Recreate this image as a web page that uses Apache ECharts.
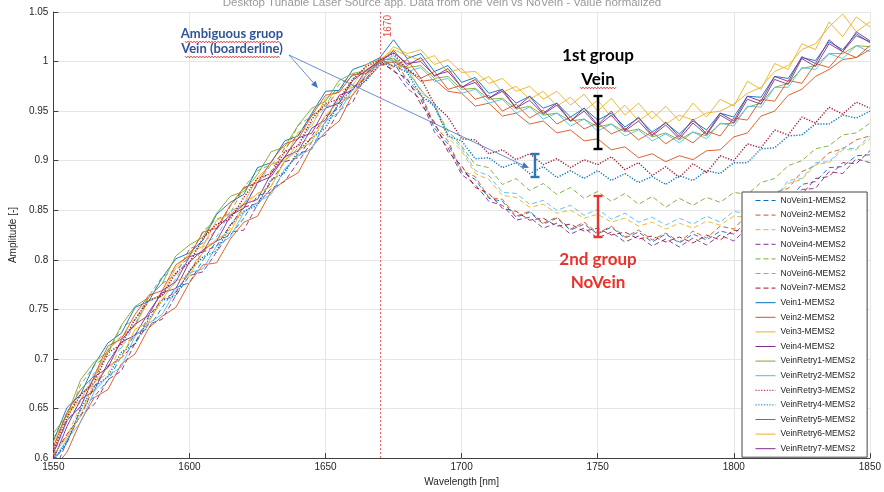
<!DOCTYPE html>
<html>
<head>
<meta charset="utf-8">
<script src="https://cdn.jsdelivr.net/npm/echarts@6/dist/echarts.min.js"></script>
<style>
  html, body { margin: 0; padding: 0; background: #fff; }
  #chart { width: 884px; height: 492px; }
</style>
</head>
<body>
<div id="chart"></div>
<script>
// Wavelength grid [nm]
const wavelength = [
  1550,1555,1560,1565,1570,1575,1580,1585,1590,1595,1600,1605,1610,1615,1620,1625,1630,1635,1640,1645,
  1650,1655,1660,1665,1670,1675,1680,1685,1690,1695,1700,1705,1710,1715,1720,1725,1730,1735,1740,1745,
  1750,1755,1760,1765,1770,1775,1780,1785,1790,1795,1800,1805,1810,1815,1820,1825,1830,1835,1840,1845,1850
];

// Normalised amplitudes, one list per measurement
const noVein1 = [0.597,0.615,0.649,0.662,0.678,0.703,0.725,0.731,0.752,0.772,0.777,0.800,0.819,0.825,0.842,0.865,0.868,0.890,0.907,0.912,0.939,0.957,0.966,0.988,1.000,
  0.999,0.978,0.966,0.933,0.917,0.889,0.881,0.862,0.859,0.843,0.848,0.836,0.842,0.830,0.836,0.826,0.833,0.822,0.828,0.818,0.826,0.817,0.826,0.820,0.829,0.826,0.839,0.838,0.857,0.860,0.876,0.879,0.893,0.894,0.905,0.906];
const noVein2 = [0.610,0.646,0.663,0.679,0.709,0.723,0.734,0.762,0.776,0.785,0.811,0.817,0.830,0.854,0.872,0.878,0.889,0.913,0.926,0.946,0.954,0.972,0.986,0.989,0.999,
  1.004,0.981,0.968,0.936,0.920,0.890,0.884,0.863,0.861,0.844,0.849,0.837,0.843,0.831,0.838,0.827,0.834,0.823,0.830,0.820,0.827,0.818,0.829,0.822,0.834,0.831,0.846,0.848,0.868,0.872,0.889,0.895,0.908,0.912,0.921,0.925];
const noVein3 = [0.608,0.622,0.653,0.677,0.685,0.714,0.723,0.736,0.764,0.777,0.787,0.813,0.819,0.831,0.857,0.867,0.874,0.900,0.917,0.923,0.939,0.965,0.975,0.983,1.002,
  0.994,0.995,0.970,0.955,0.923,0.910,0.887,0.881,0.865,0.863,0.853,0.856,0.847,0.850,0.842,0.846,0.838,0.842,0.834,0.838,0.831,0.837,0.832,0.839,0.835,0.844,0.843,0.857,0.861,0.877,0.881,0.896,0.898,0.911,0.911,0.922];
const noVein4 = [0.584,0.617,0.644,0.654,0.679,0.688,0.716,0.735,0.740,0.764,0.784,0.788,0.808,0.828,0.830,0.856,0.872,0.879,0.899,0.919,0.926,0.951,0.959,0.988,0.998,
  0.992,0.973,0.962,0.929,0.913,0.886,0.876,0.859,0.855,0.840,0.843,0.832,0.837,0.826,0.832,0.822,0.828,0.818,0.824,0.814,0.821,0.813,0.822,0.815,0.825,0.819,0.832,0.830,0.851,0.853,0.871,0.872,0.889,0.887,0.902,0.898];
const noVein5 = [0.621,0.638,0.674,0.693,0.705,0.733,0.739,0.763,0.783,0.790,0.803,0.829,0.841,0.847,0.873,0.890,0.896,0.909,0.936,0.945,0.956,0.977,0.986,0.991,1.003,
  1.001,0.990,0.972,0.955,0.930,0.915,0.896,0.893,0.876,0.882,0.870,0.877,0.866,0.873,0.862,0.869,0.859,0.867,0.856,0.864,0.853,0.862,0.855,0.863,0.858,0.868,0.866,0.878,0.882,0.895,0.900,0.912,0.915,0.926,0.928,0.938];
const noVein6 = [0.603,0.637,0.657,0.686,0.703,0.711,0.736,0.758,0.763,0.781,0.805,0.817,0.823,0.849,0.856,0.876,0.896,0.900,0.913,0.939,0.954,0.960,0.983,0.990,0.997,
  1.002,0.992,0.971,0.958,0.926,0.913,0.890,0.885,0.868,0.867,0.856,0.860,0.850,0.855,0.845,0.851,0.841,0.847,0.838,0.843,0.835,0.842,0.836,0.844,0.838,0.849,0.846,0.862,0.862,0.880,0.882,0.898,0.899,0.913,0.912,0.925];
const noVein7 = [0.602,0.624,0.642,0.672,0.693,0.701,0.716,0.743,0.760,0.767,0.788,0.808,0.814,0.835,0.853,0.857,0.879,0.899,0.903,0.925,0.945,0.953,0.974,0.983,1.001,
  0.990,0.983,0.957,0.939,0.909,0.895,0.873,0.867,0.852,0.849,0.840,0.842,0.834,0.836,0.829,0.832,0.825,0.828,0.821,0.824,0.818,0.823,0.817,0.825,0.820,0.830,0.828,0.843,0.846,0.863,0.866,0.882,0.884,0.898,0.897,0.910];
const vein1 = [0.617,0.651,0.664,0.694,0.716,0.726,0.752,0.758,0.782,0.801,0.807,0.820,0.846,0.858,0.866,0.893,0.898,0.920,0.925,0.948,0.970,0.971,0.992,0.997,1.004,
  1.022,1.003,1.008,0.990,0.996,0.979,0.984,0.968,0.972,0.958,0.965,0.953,0.958,0.944,0.953,0.941,0.948,0.934,0.943,0.929,0.938,0.927,0.940,0.931,0.948,0.944,0.965,0.964,0.985,0.983,1.004,1.001,1.020,1.012,1.028,1.019];
const vein2 = [0.589,0.606,0.637,0.661,0.669,0.695,0.705,0.731,0.743,0.752,0.777,0.795,0.797,0.821,0.838,0.844,0.869,0.880,0.888,0.914,0.929,0.940,0.967,0.982,0.996,
  1.000,0.993,0.980,0.982,0.970,0.968,0.955,0.958,0.945,0.948,0.937,0.940,0.928,0.931,0.920,0.922,0.911,0.914,0.903,0.907,0.899,0.905,0.901,0.910,0.911,0.924,0.928,0.945,0.950,0.966,0.972,0.985,0.992,1.002,1.004,1.012];
const vein3 = [0.616,0.644,0.659,0.681,0.709,0.722,0.733,0.759,0.765,0.792,0.806,0.814,0.840,0.846,0.857,0.883,0.896,0.902,0.929,0.935,0.963,0.970,0.976,0.997,1.002,
  1.012,1.006,1.001,1.006,0.989,0.993,0.978,0.985,0.969,0.975,0.962,0.970,0.955,0.964,0.950,0.961,0.944,0.956,0.940,0.950,0.937,0.946,0.941,0.948,0.950,0.957,0.968,0.974,0.990,0.996,1.012,1.018,1.035,1.048,1.030,1.040];
const vein4 = [0.598,0.632,0.659,0.668,0.696,0.717,0.724,0.747,0.767,0.771,0.798,0.810,0.819,0.844,0.856,0.861,0.887,0.904,0.910,0.933,0.941,0.966,0.971,0.992,0.999,
  1.011,0.996,1.004,0.985,0.993,0.974,0.982,0.963,0.972,0.953,0.965,0.948,0.958,0.940,0.953,0.936,0.950,0.931,0.944,0.926,0.939,0.924,0.942,0.927,0.948,0.940,0.965,0.960,0.985,0.980,1.005,0.998,1.022,1.010,1.030,1.021];
const veinRetry1 = [0.625,0.643,0.679,0.697,0.707,0.734,0.753,0.762,0.776,0.804,0.815,0.823,0.847,0.864,0.869,0.886,0.909,0.914,0.936,0.953,0.960,0.981,0.988,0.991,1.001,
  1.003,0.994,0.996,0.983,0.985,0.972,0.973,0.962,0.963,0.952,0.955,0.946,0.948,0.940,0.942,0.934,0.937,0.929,0.932,0.924,0.928,0.921,0.929,0.925,0.937,0.938,0.954,0.958,0.974,0.978,0.993,0.996,1.008,1.008,1.016,1.015];
const veinRetry2 = [0.597,0.619,0.636,0.667,0.683,0.692,0.723,0.736,0.745,0.769,0.787,0.791,0.814,0.823,0.848,0.858,0.866,0.892,0.905,0.912,0.940,0.949,0.972,0.986,0.999,
  1.006,0.990,0.994,0.980,0.983,0.968,0.972,0.958,0.962,0.948,0.954,0.942,0.948,0.935,0.942,0.930,0.937,0.925,0.931,0.920,0.927,0.918,0.929,0.922,0.938,0.935,0.955,0.954,0.974,0.974,0.994,0.992,1.008,1.003,1.016,1.010];
const veinRetry3 = [0.607,0.641,0.664,0.676,0.706,0.715,0.740,0.759,0.764,0.787,0.797,0.822,0.836,0.841,0.863,0.882,0.887,0.909,0.915,0.942,0.958,0.962,0.982,0.995,1.002,
  1.008,0.992,0.983,0.957,0.944,0.922,0.921,0.907,0.911,0.901,0.907,0.896,0.902,0.893,0.901,0.896,0.904,0.891,0.898,0.885,0.894,0.883,0.897,0.888,0.905,0.900,0.917,0.913,0.931,0.926,0.944,0.938,0.954,0.947,0.959,0.953];
const veinRetry4 = [0.598,0.616,0.650,0.672,0.682,0.707,0.715,0.740,0.759,0.764,0.789,0.803,0.809,0.835,0.849,0.855,0.881,0.888,0.910,0.923,0.933,0.959,0.973,0.981,0.998,
  0.996,0.989,0.966,0.955,0.925,0.920,0.902,0.903,0.893,0.898,0.887,0.894,0.883,0.890,0.882,0.890,0.880,0.887,0.878,0.884,0.876,0.885,0.880,0.890,0.887,0.898,0.898,0.912,0.913,0.925,0.926,0.937,0.937,0.946,0.943,0.950];
const veinRetry5 = [0.611,0.646,0.669,0.683,0.713,0.720,0.745,0.764,0.769,0.795,0.804,0.828,0.832,0.855,0.873,0.878,0.899,0.917,0.922,0.946,0.966,0.969,0.987,0.988,1.003,
  0.995,1.002,0.983,0.990,0.972,0.976,0.962,0.966,0.950,0.957,0.943,0.951,0.937,0.944,0.932,0.938,0.927,0.933,0.921,0.929,0.917,0.926,0.918,0.930,0.925,0.943,0.941,0.962,0.960,0.981,0.978,0.998,0.994,1.010,1.004,1.016];
const veinRetry6 = [0.604,0.621,0.643,0.676,0.692,0.701,0.730,0.737,0.760,0.779,0.784,0.808,0.821,0.828,0.854,0.867,0.874,0.900,0.911,0.919,0.946,0.960,0.966,0.992,1.000,
  1.015,1.008,1.012,0.997,1.002,0.989,0.990,0.978,0.983,0.970,0.975,0.962,0.970,0.956,0.967,0.950,0.963,0.946,0.958,0.942,0.955,0.940,0.958,0.944,0.962,0.955,0.980,0.972,0.998,0.992,1.018,1.012,1.040,1.025,1.045,1.035];
const veinRetry7 = [0.605,0.638,0.652,0.682,0.691,0.719,0.735,0.744,0.769,0.778,0.803,0.808,0.832,0.845,0.852,0.878,0.884,0.904,0.923,0.928,0.953,0.958,0.981,0.991,1.001,
  1.009,0.998,1.000,0.986,0.990,0.974,0.979,0.963,0.970,0.953,0.961,0.947,0.956,0.940,0.950,0.935,0.946,0.930,0.940,0.925,0.936,0.922,0.938,0.926,0.946,0.938,0.962,0.957,0.982,0.977,1.003,0.995,1.018,1.010,1.026,1.020];

const seriesNames = [
  'NoVein1-MEMS2','NoVein2-MEMS2','NoVein3-MEMS2','NoVein4-MEMS2','NoVein5-MEMS2','NoVein6-MEMS2','NoVein7-MEMS2',
  'Vein1-MEMS2','Vein2-MEMS2','Vein3-MEMS2','Vein4-MEMS2',
  'VeinRetry1-MEMS2','VeinRetry2-MEMS2','VeinRetry3-MEMS2','VeinRetry4-MEMS2','VeinRetry5-MEMS2','VeinRetry6-MEMS2','VeinRetry7-MEMS2'
];
const seriesValues = [noVein1,noVein2,noVein3,noVein4,noVein5,noVein6,noVein7,
  vein1,vein2,vein3,vein4,veinRetry1,veinRetry2,veinRetry3,veinRetry4,veinRetry5,veinRetry6,veinRetry7];
const xTicks = [1550,1600,1650,1700,1750,1800,1850];
const referenceWavelength = 1670;

// Colour order and line styles of the plotting tool
const palette = ['#0072BD','#D95319','#EDB120','#7E2F8E','#77AC30','#4DBEEE','#A2142F'];
const dash = [5, 3];
const dot = [1.2, 1.6];
const styleOf = (i) => {
  if (i < 7) return { color: palette[i], type: dash };
  const k = i - 7; // Vein1 starts the cycle again
  const color = palette[k % 7];
  if (i === 13 || i === 14) return { color, type: dot, width: 1.4 };
  return { color, type: 'solid' };
};

const FONT = 'Liberation Sans, Arial, sans-serif';
const NOTE_FONT = 'Lato, Open Sans, sans-serif';

const series = seriesValues.map((vals, i) => {
  const st = styleOf(i);
  const s = {
    name: seriesNames[i],
    type: 'line',
    showSymbol: false,
    symbol: 'none',
    animation: false,
    clip: true,
    lineStyle: { color: st.color, type: st.type, width: st.width || 0.9 },
    itemStyle: { color: st.color },
    data: wavelength.map((w, j) => [w, vals[j]])
  };
  if (i === 0) {
    s.markLine = {
      silent: true,
      symbol: 'none',
      animation: false,
      itemStyle: { color: '#f05050' },
      lineStyle: { color: '#f05050', type: [2, 2], width: 1, opacity: 0.9 },
      label: { show: true, formatter: String(referenceWavelength), position: 'insideEndBottom',
               color: '#e53935', fontSize: 10, fontFamily: FONT, distance: 3 },
      data: [{ xAxis: referenceWavelength }]
    };
  }
  return s;
});

// annotation helpers
function arrow(x1, y1, x2, y2, color) {
  const a = Math.atan2(y2 - y1, x2 - x1);
  const L = 7, W = 3;
  const bx = x2 - L * Math.cos(a), by = y2 - L * Math.sin(a);
  return [
    { type: 'line', shape: { x1, y1, x2: bx, y2: by }, style: { stroke: color, lineWidth: 0.8 }, z: 100 },
    { type: 'polygon', shape: { points: [[x2, y2],
        [bx + W * Math.sin(a), by - W * Math.cos(a)],
        [bx - W * Math.sin(a), by + W * Math.cos(a)]] }, style: { fill: color }, z: 100 }
  ];
}
function ibar(x, y1, y2, color) {
  const w = 4.5;
  return [
    { type: 'line', shape: { x1: x, y1, x2: x, y2 }, style: { stroke: color, lineWidth: 2.4 }, z: 100 },
    { type: 'line', shape: { x1: x - w, y1, x2: x + w, y2: y1 }, style: { stroke: color, lineWidth: 2.4 }, z: 100 },
    { type: 'line', shape: { x1: x - w, y1: y2, x2: x + w, y2 }, style: { stroke: color, lineWidth: 2.4 }, z: 100 }
  ];
}
function squiggle(x1, x2, y) {
  const pts = [];
  let up = true;
  for (let x = x1; x <= x2; x += 1.5) { pts.push([x, y + (up ? -0.8 : 0.8)]); up = !up; }
  return { type: 'polyline', shape: { points: pts }, style: { stroke: '#e02020', lineWidth: 0.9, fill: null }, z: 100 };
}
function note(text, x, y, size, color) {
  return { type: 'text', x, y, z: 100,
    style: { text, fill: color, font: 'bold ' + size + 'px ' + NOTE_FONT, textAlign: 'center', textVerticalAlign: 'middle' } };
}

const blueNote = '#2F5597';
const redNote = '#E8322B';
const graphics = [].concat(
  [note('Ambiguous gruop', 232, 34, 13, blueNote), note('Vein (boarderline)', 232, 49, 13, blueNote)],
  [squiggle(185, 280, 42), squiggle(185, 280, 57)],
  arrow(289, 55, 318, 88, '#4472C4'),
  arrow(289, 55, 529, 168, '#4472C4'),
  ibar(535, 154, 177, '#2E75B6'),
  [note('1st group', 598, 56, 17, '#000'), note('Vein', 598, 80, 17, '#000'), squiggle(580, 616, 88)],
  ibar(598, 96, 149, '#000'),
  [note('2nd group', 598, 260, 17, redNote), note('NoVein', 598, 283, 17, redNote)],
  ibar(598, 196, 237, redNote)
);

const chart = echarts.init(document.getElementById('chart'), null, { renderer: 'canvas' });
chart.setOption({
  animation: false,
  backgroundColor: '#fff',
  title: {
    text: 'Desktop Tunable Laser Source app. Data from one Vein vs NoVein - Value normalized',
    left: 'center', top: -8,
    textStyle: { fontSize: 11.5, fontWeight: 'normal', color: '#999', fontFamily: FONT }
  },
  grid: { left: 48, right: 12, top: 12, bottom: 30, containLabel: false },
  xAxis: {
    type: 'value', min: xTicks[0], max: xTicks[xTicks.length - 1], interval: 50,
    name: 'Wavelength [nm]', nameLocation: 'middle', nameGap: 16,
    nameTextStyle: { color: '#262626', fontSize: 10, fontFamily: FONT },
    axisLine: { show: true, lineStyle: { color: '#404040', width: 1 } },
    axisTick: { show: true, inside: true, length: 5, lineStyle: { color: '#404040' } },
    axisLabel: { color: '#262626', fontSize: 10, margin: 4, fontFamily: FONT,
                 formatter: (v) => String(v) },
    splitLine: { show: true, lineStyle: { color: '#e6e6e6', width: 1 } }
  },
  yAxis: {
    type: 'value', min: 0.6, max: 1.05, interval: 0.05,
    name: 'Amplitude [-]', nameLocation: 'middle', nameGap: 21,
    nameTextStyle: { color: '#262626', fontSize: 10, fontFamily: FONT },
    axisLine: { show: true, lineStyle: { color: '#404040', width: 1 } },
    axisTick: { show: true, inside: true, length: 5, lineStyle: { color: '#404040' } },
    axisLabel: { color: '#262626', fontSize: 10, margin: 5, fontFamily: FONT,
                 formatter: (v) => String(Math.round(v * 100) / 100) },
    splitLine: { show: true, lineStyle: { color: '#e6e6e6', width: 1 } }
  },
  legend: {
    orient: 'vertical', left: 742, top: 192,
    padding: [4, 12, 4, 13], itemGap: 5.6, itemWidth: 20, itemHeight: 9,
    backgroundColor: '#fff', borderColor: '#444', borderWidth: 1,
    itemStyle: { opacity: 0 },
    lineStyle: { width: 1 },
    textStyle: { fontSize: 8.5, color: '#222', fontFamily: FONT },
    data: seriesNames
  },
  series,
  graphic: graphics
});
</script>
</body>
</html>
